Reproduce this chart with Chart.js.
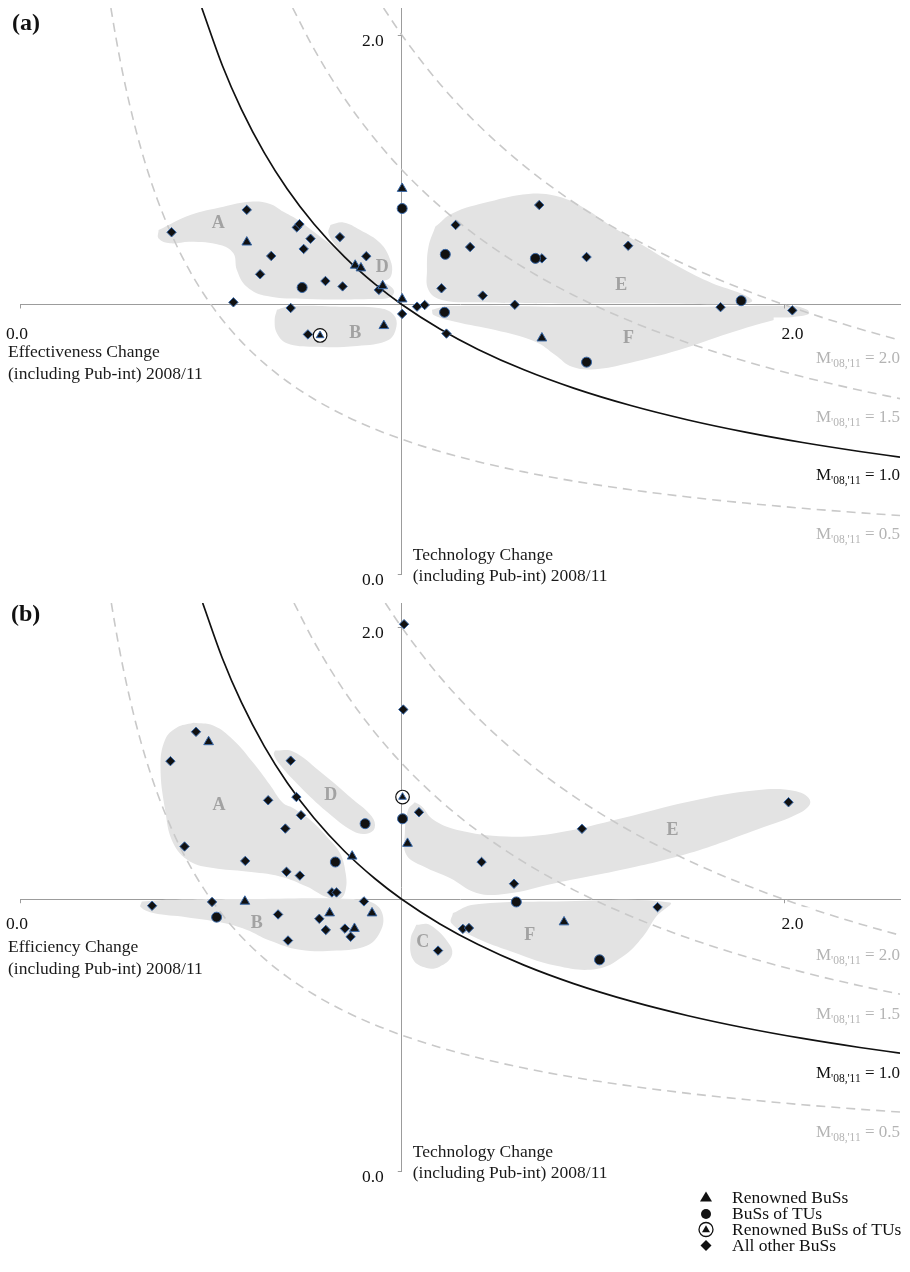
<!DOCTYPE html>
<html>
<head>
<meta charset="utf-8">
<script src="https://cdn.jsdelivr.net/npm/chart.js@4.4.1/dist/chart.umd.min.js"></script>
<style>
html,body{margin:0;padding:0;background:#fff;width:910px;height:1272px;overflow:hidden;font-family:"Liberation Serif",serif;}
.box{position:absolute;left:0;width:910px;}
.plabel{position:absolute;font-weight:bold;font-size:24px;line-height:24px;color:#111;}
.leg{position:absolute;left:690px;width:220px;height:17px;font-size:17.5px;line-height:17px;color:#111;}
.leg svg{position:absolute;left:8px;top:0;}
.leg span{position:absolute;left:42px;top:0;white-space:nowrap;}
</style>
</head>
<body>
<div class="box" style="top:0;height:590px"><canvas id="ca" width="910" height="590"></canvas></div>
<div class="box" style="top:590px;height:600px"><canvas id="cb" width="910" height="600"></canvas></div>
<div class="plabel" style="left:12px;top:10px">(a)</div>
<div class="plabel" style="left:11px;top:601px">(b)</div>

<div class="leg" style="top:1189px"><svg width="18" height="17"><polygon points="8,2.5 14,12.5 2,12.5" fill="#111"/></svg><span>Renowned BuSs</span></div>
<div class="leg" style="top:1205px"><svg width="18" height="17"><circle cx="8" cy="9" r="5" fill="#111"/></svg><span>BuSs of TUs</span></div>
<div class="leg" style="top:1221px"><svg width="18" height="17"><circle cx="8" cy="8.5" r="7" fill="#fff" stroke="#111" stroke-width="1.3"/><polygon points="8,4.3 12,11.3 4,11.3" fill="#111"/></svg><span>Renowned BuSs of TUs</span></div>
<div class="leg" style="top:1237px"><svg width="18" height="17"><polygon points="8,3 13.5,8.5 8,14 2.5,8.5" fill="#111"/></svg><span>All other BuSs</span></div>

<script>
// ---------- shared values ----------
const M_VALUES = [0.5, 1.0, 1.5, 2.0];
const M_TEXT = ['0.5', '1.0', '1.5', '2.0'];
const CURVE_X = [0.23,0.25,0.27,0.3,0.33,0.36,0.4,0.44,0.48,0.53,0.58,0.64,0.7,0.77,0.85,0.93,1.0,1.1,1.2,1.32,1.45,1.6,1.75,1.9,2.05,2.2,2.305];
const TICK_VALUES = [0, 2];
const TICK_TEXT = ['0.0', '2.0'];
const X_MAX = 2.305;

// ---------- panel (a) ----------
const A_TRIANGLES = [[0.594,1.231],[0.878,1.145],[0.893,1.135],[0.950,1.069],[1.001,1.020],[1.001,1.430],[0.953,0.921],[1.367,0.875]];
const A_CIRCLES = [[0.739,1.063],[1.001,1.356],[1.114,1.186],[1.350,1.171],[1.112,0.971],[1.484,0.786],[1.889,1.014]];
const A_CIRCLED = [[0.786,0.885]];
const A_DIAMONDS = [[0.397,1.268],[0.594,1.351],[0.658,1.180],[0.629,1.112],[0.725,1.286],[0.732,1.298],[0.761,1.244],[0.743,1.206],[0.800,1.087],[0.845,1.067],[0.838,1.250],[0.907,1.179],[0.940,1.054],[1.001,0.965],[0.559,1.008],[0.709,0.987],[0.754,0.889],[1.141,1.295],[1.179,1.213],[1.367,1.171],[1.360,1.369],[1.484,1.176],[1.593,1.218],[1.104,1.060],[1.212,1.033],[1.040,0.992],[1.060,0.998],[1.296,0.999],[1.117,0.892],[1.835,0.990],[2.023,0.978]];
const A_REG_A = [[0.363,1.276],[0.446,1.332],[0.533,1.363],[0.603,1.381],[0.655,1.373],[0.690,1.344],[0.725,1.316],[0.786,1.252],[0.839,1.196],[0.891,1.140],[0.944,1.091],[0.979,1.054],[0.970,1.027],[0.926,1.020],[0.751,1.020],[0.647,1.031],[0.594,1.066],[0.568,1.128],[0.559,1.190],[0.524,1.221],[0.446,1.233],[0.393,1.227],[0.363,1.245]];
const A_REG_D = [[0.813,1.295],[0.847,1.304],[0.891,1.276],[0.944,1.227],[0.970,1.165],[0.974,1.116],[0.961,1.091],[0.926,1.097],[0.874,1.140],[0.830,1.214],[0.808,1.264]];
const A_REG_B = [[0.673,0.980],[0.708,0.994],[0.839,0.992],[0.944,0.986],[0.979,0.961],[0.986,0.918],[0.965,0.868],[0.883,0.846],[0.769,0.843],[0.699,0.856],[0.673,0.893],[0.667,0.942]];
const A_REG_E = [[1.088,1.289],[1.132,1.338],[1.228,1.381],[1.332,1.410],[1.402,1.403],[1.472,1.363],[1.551,1.289],[1.638,1.214],[1.726,1.140],[1.813,1.079],[1.892,1.039],[1.918,1.014],[1.892,1.002],[1.682,1.004],[1.420,1.004],[1.201,1.008],[1.105,1.017],[1.070,1.054],[1.066,1.128],[1.070,1.214]];
const A_REG_F = [[1.079,0.980],[1.123,0.994],[1.420,0.992],[1.769,0.992],[2.023,0.994],[2.062,0.980],[2.066,0.965],[2.023,0.953],[1.975,0.942],[1.857,0.893],[1.726,0.831],[1.594,0.782],[1.507,0.760],[1.446,0.769],[1.402,0.813],[1.350,0.862],[1.245,0.905],[1.140,0.936],[1.083,0.961]];
const A_LETTERS = ['A','D','B','E','F'];
const A_LETTER_POS = [[0.519,1.302],[0.949,1.139],[0.878,0.894],[1.575,1.072],[1.594,0.876]];
const A_X_TITLE = ['Effectiveness Change', '(including Pub-int) 2008/11'];
const A_Y_TITLE = ['Technology Change', '(including Pub-int) 2008/11'];

// ---------- panel (b) ----------
const B_TRIANGLES = [[0.494,1.579],[0.870,1.158],[0.589,0.992],[0.811,0.949],[0.876,0.892],[0.922,0.949],[1.015,1.205],[1.425,0.916]];
const B_CIRCLES = [[0.904,1.278],[0.826,1.137],[0.515,0.934],[1.002,1.296],[1.300,0.990],[1.518,0.777]];
const B_CIRCLED = [[1.002,1.376]];
const B_DIAMONDS = [[0.461,1.616],[0.394,1.508],[0.709,1.510],[0.724,1.376],[0.650,1.364],[0.736,1.309],[0.695,1.260],[0.431,1.194],[0.590,1.141],[0.698,1.101],[0.733,1.087],[0.817,1.025],[0.829,1.025],[0.346,0.976],[0.503,0.990],[0.676,0.944],[0.702,0.848],[0.784,0.928],[0.801,0.887],[0.851,0.892],[0.866,0.862],[0.901,0.992],[1.004,1.698],[1.006,2.012],[1.045,1.320],[1.209,1.137],[1.294,1.057],[1.472,1.259],[2.013,1.357],[1.670,0.971],[1.160,0.891],[1.176,0.894],[1.095,0.811]];
const B_REG_A = [[0.454,1.649],[0.506,1.639],[0.558,1.587],[0.611,1.502],[0.654,1.422],[0.689,1.354],[0.715,1.336],[0.759,1.293],[0.803,1.231],[0.838,1.170],[0.853,1.096],[0.853,1.035],[0.838,1.001],[0.803,1.008],[0.751,1.047],[0.681,1.084],[0.593,1.102],[0.506,1.115],[0.445,1.139],[0.401,1.207],[0.380,1.330],[0.368,1.489],[0.380,1.587],[0.410,1.631]];
const B_REG_D = [[0.668,1.547],[0.715,1.544],[0.785,1.471],[0.873,1.366],[0.921,1.305],[0.929,1.262],[0.908,1.241],[0.873,1.250],[0.803,1.323],[0.733,1.415],[0.681,1.495],[0.665,1.532]];
const B_REG_B = [[0.319,0.992],[0.393,0.998],[0.611,1.001],[0.873,1.001],[0.929,0.983],[0.951,0.937],[0.942,0.876],[0.908,0.829],[0.829,0.811],[0.733,0.814],[0.654,0.848],[0.593,0.888],[0.524,0.915],[0.436,0.934],[0.349,0.949],[0.316,0.971]];
const B_REG_C = [[1.038,0.906],[1.073,0.906],[1.126,0.832],[1.130,0.789],[1.099,0.752],[1.065,0.747],[1.030,0.777],[1.023,0.851]];
const B_REG_E = [[1.034,1.357],[1.052,1.342],[1.082,1.293],[1.143,1.256],[1.274,1.231],[1.405,1.244],[1.579,1.299],[1.754,1.360],[1.929,1.401],[2.033,1.397],[2.070,1.360],[2.042,1.317],[1.929,1.256],[1.754,1.170],[1.579,1.109],[1.405,1.060],[1.274,1.020],[1.196,1.023],[1.126,1.078],[1.056,1.121],[1.012,1.164],[1.008,1.244],[1.017,1.330]];
const B_REG_F = [[1.134,0.949],[1.187,0.980],[1.405,0.992],[1.702,0.988],[1.667,0.937],[1.632,0.863],[1.579,0.789],[1.510,0.743],[1.405,0.755],[1.274,0.814],[1.187,0.863],[1.130,0.912]];
const B_LETTERS = ['A','D','B','C','E','F'];
const B_LETTER_POS = [[0.521,1.344],[0.814,1.381],[0.620,0.913],[1.055,0.843],[1.709,1.252],[1.335,0.866]];
const B_X_TITLE = ['Efficiency Change', '(including Pub-int) 2008/11'];
const B_Y_TITLE = ['Technology Change', '(including Pub-int) 2008/11'];

// ---------- helpers ----------
const FONT = '"Liberation Serif", "Times New Roman", serif';
Chart.defaults.font.family = FONT;
const toXY = arr => arr.map(p => ({x: p[0], y: p[1]}));

function pointSet(arr, style, r, bg, border, bw) {
  return {type: 'scatter', data: toXY(arr), showLine: false, pointStyle: style,
    pointRadius: r, pointHoverRadius: r, backgroundColor: bg, borderColor: border, borderWidth: bw};
}
function curveSet(m, yMax) {
  const x0 = m / yMax;
  const pts = [{x: x0, y: yMax}].concat(CURVE_X.filter(x => x > x0 + 0.005).map(x => ({x: x, y: m / x})));
  const solid = m === 1.0;
  return {type: 'scatter', data: pts, showLine: true, pointRadius: 0, pointHoverRadius: 0,
    borderColor: solid ? '#111' : '#c9c9c9', borderWidth: solid ? 1.7 : 1.6,
    borderDash: solid ? [] : [9, 6], cubicInterpolationMode: 'monotone', fill: false};
}
function regionSet(arr) {
  const d = toXY(arr.concat([arr[0]]));
  return {type: 'scatter', data: d, showLine: true, pointRadius: 0, pointHoverRadius: 0,
    borderWidth: 0, borderColor: 'rgba(0,0,0,0)', backgroundColor: '#e3e3e3', fill: 'shape', tension: 0.4};
}

function textPlugin(cfg) {
  return {
    id: 'panelTexts',
    afterDatasetsDraw(chart) {
      const ctx = chart.ctx, xs = chart.scales.x, ys = chart.scales.y;
      const axX = xs.getPixelForValue(1), axY = ys.getPixelForValue(1);
      ctx.save();
      // tick marks
      ctx.strokeStyle = '#9c9c9c'; ctx.lineWidth = 1;
      TICK_VALUES.forEach(v => {
        const px = Math.round(xs.getPixelForValue(v)) + 0.5;
        ctx.beginPath(); ctx.moveTo(px, axY); ctx.lineTo(px, axY + 4); ctx.stroke();
        const py = Math.round(ys.getPixelForValue(v)) + 0.5;
        ctx.beginPath(); ctx.moveTo(axX, py); ctx.lineTo(axX - 4, py); ctx.stroke();
      });
      // x tick labels
      ctx.font = '17.5px ' + FONT; ctx.textBaseline = 'middle'; ctx.textAlign = 'center';
      TICK_VALUES.forEach((v, i) => {
        const cx = xs.getPixelForValue(v) + cfg.xTickDx[i], cy = axY + cfg.xTickDy;
        const w = ctx.measureText(TICK_TEXT[i]).width;
        ctx.fillStyle = '#fff'; ctx.fillRect(cx - w / 2 - 8, cy - 17, w + 16, 34);
        ctx.fillStyle = '#111'; ctx.fillText(TICK_TEXT[i], cx, cy);
      });
      // y tick labels
      ctx.textAlign = 'right';
      TICK_VALUES.forEach((v, i) => {
        ctx.fillText(TICK_TEXT[i], axX - 18, ys.getPixelForValue(v) + 6);
      });
      // axis titles
      ctx.textAlign = 'left'; ctx.fillStyle = '#1a1a1a';
      ctx.fillText(cfg.xTitle[0], xs.left - 12, axY + 48);
      ctx.fillText(cfg.xTitle[1], xs.left - 12, axY + 70);
      const y0 = ys.getPixelForValue(0);
      ctx.fillText(cfg.yTitle[0], axX + 11, y0 - 19);
      ctx.fillText(cfg.yTitle[1], axX + 11, y0 + 2);
      // region letters
      ctx.font = 'bold 18px ' + FONT; ctx.fillStyle = '#a2a2a2'; ctx.textAlign = 'center';
      cfg.letters.forEach((t, i) => {
        ctx.fillText(t, xs.getPixelForValue(cfg.letterPos[i][0]), ys.getPixelForValue(cfg.letterPos[i][1]));
      });
      // M labels
      ctx.textBaseline = 'alphabetic'; ctx.textAlign = 'left';
      const big = '17px ' + FONT, small = '11.5px ' + FONT, sub = "'08,'11";
      M_VALUES.forEach((m, i) => {
        const rightX = xs.getPixelForValue(X_MAX);
        const base = ys.getPixelForValue(m / X_MAX) + cfg.mLabelDy;
        const eq = ' = ' + M_TEXT[i];
        ctx.fillStyle = m === 1.0 ? '#111' : '#b4b4b4';
        ctx.font = big; const wM = ctx.measureText('M').width, wE = ctx.measureText(eq).width;
        ctx.font = small; const wS = ctx.measureText(sub).width;
        const x0 = rightX - (wM + wS + wE);
        ctx.font = big; ctx.fillText('M', x0, base);
        ctx.font = small; ctx.fillText(sub, x0 + wM, base + 4);
        ctx.font = big; ctx.fillText(eq, x0 + wM + wS, base);
      });
      ctx.restore();
    }
  };
}

function makePanel(id, d) {
  const datasets = [];
  datasets.push(pointSet(d.circled, 'triangle', 4.4, '#111', '#3868a8', 1));
  datasets.push(pointSet(d.circled, 'circle', 6.8, '#fff', '#111', 1.2));
  datasets.push(pointSet(d.triangles, 'triangle', 5.6, '#111', '#3868a8', 1));
  datasets.push(pointSet(d.circles, 'circle', 5, '#111', '#3868a8', 1));
  datasets.push(pointSet(d.diamonds, 'rectRot', 4.7, '#111', '#3868a8', 1));
  M_VALUES.forEach(m => datasets.push(curveSet(m, d.yMax)));
  d.regions.forEach(r => datasets.push(regionSet(r)));
  return new Chart(document.getElementById(id), {
    type: 'scatter',
    data: {datasets: datasets},
    options: {
      responsive: false, animation: false, events: [],
      layout: {padding: {left: 20, right: 10, top: d.padTop, bottom: d.padBottom}},
      plugins: {legend: {display: false}, tooltip: {enabled: false}, filler: {propagate: false}},
      scales: {
        x: {type: 'linear', min: 0, max: X_MAX, position: {y: 1},
            grid: {display: false, drawTicks: false}, ticks: {display: false},
            border: {display: true, color: '#9c9c9c', width: 1}},
        y: {type: 'linear', min: 0, max: d.yMax, position: {x: 1},
            grid: {display: false, drawTicks: false}, ticks: {display: false},
            border: {display: true, color: '#9c9c9c', width: 1}}
      }
    },
    plugins: [textPlugin(d)]
  });
}

makePanel('ca', {
  triangles: A_TRIANGLES, circles: A_CIRCLES, circled: A_CIRCLED, diamonds: A_DIAMONDS,
  regions: [A_REG_A, A_REG_D, A_REG_B, A_REG_E, A_REG_F],
  letters: A_LETTERS, letterPos: A_LETTER_POS, xTitle: A_X_TITLE, yTitle: A_Y_TITLE,
  yMax: 2.1, padTop: 8, padBottom: 16, xTickDy: 30, xTickDx: [-3, 9], mLabelDy: 23
});
makePanel('cb', {
  triangles: B_TRIANGLES, circles: B_CIRCLES, circled: B_CIRCLED, diamonds: B_DIAMONDS,
  regions: [B_REG_A, B_REG_D, B_REG_B, B_REG_C, B_REG_E, B_REG_F],
  letters: B_LETTERS, letterPos: B_LETTER_POS, xTitle: B_X_TITLE, yTitle: B_Y_TITLE,
  yMax: 2.09, padTop: 13, padBottom: 19, xTickDy: 25, xTickDx: [-3, 9], mLabelDy: 25
});
</script>
</body>
</html>
